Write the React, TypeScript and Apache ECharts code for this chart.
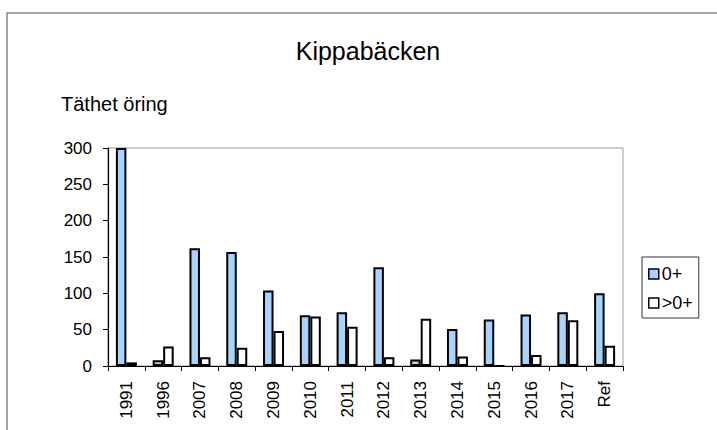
import React, { useEffect, useRef } from "react";
import * as echarts from "echarts";

const categories = ["1991", "1996", "2007", "2008", "2009", "2010", "2011", "2012", "2013", "2014", "2015", "2016", "2017", "Ref"];
const young = [300, 8, 162, 157, 104, 70, 74, 136, 9, 51, 64, 71, 74, 100];
const older = [5, 27, 12, 25, 48, 68, 54, 12, 65, 13, 0, 15, 63, 28];
const yTicks = { min: 0, max: 300, interval: 50 };

const FONT = "Liberation Sans, Arial, sans-serif";

export default function App() {
  const ref = useRef<HTMLDivElement>(null);
  useEffect(() => {
    if (!ref.current) return;
    const chart = echarts.init(ref.current, null, { renderer: "svg" });
    chart.setOption({
      animation: false,
      backgroundColor: "#fff",
      textStyle: { fontFamily: FONT },
      title: [
        { text: "Kippabäcken", left: 368, top: 38, textAlign: "center", padding: 0,
          textStyle: { fontSize: 25, fontWeight: "normal", color: "#000", fontFamily: FONT } },
        { text: "Täthet öring", left: 61, top: 94, padding: 0,
          textStyle: { fontSize: 20, fontWeight: "normal", color: "#000", fontFamily: FONT } },
      ],
      graphic: [
        { type: "rect", shape: { x: 7, y: 13, width: 800, height: 500 }, style: { fill: "none", stroke: "#888", lineWidth: 1.5 }, silent: true },
      ],
      legend: {
        orient: "vertical",
        left: 642,
        top: 257,
        padding: [8, 6, 6, 6],
        itemGap: 11,
        itemWidth: 10,
        itemHeight: 10,
        icon: "rect",
        borderColor: "#333",
        borderWidth: 1,
        textStyle: { fontSize: 18, color: "#000", fontFamily: FONT, padding: [0, 0, 0, -2] },
        itemStyle: { borderColor: "#000", borderWidth: 1.5 },
        data: ["0+", ">0+"],
      },
      grid: {
        left: 108, top: 148, right: 94, bottom: 64,
        show: true, borderColor: "#999", borderWidth: 1,
        containLabel: false, outerBoundsMode: "none",
      },
      xAxis: {
        type: "category",
        data: categories,
        axisLine: { show: true, lineStyle: { color: "#000", width: 1.2 } },
        axisTick: { show: true, interval: 0, length: 5, lineStyle: { color: "#000" } },
        axisLabel: { interval: 0, rotate: 90, margin: 15, fontSize: 17, color: "#000", fontFamily: FONT },
        splitLine: { show: false },
      },
      yAxis: {
        type: "value",
        min: yTicks.min, max: yTicks.max, interval: yTicks.interval,
        axisLine: { show: true, lineStyle: { color: "#000", width: 1.2 } },
        axisTick: { show: true, length: 5, lineStyle: { color: "#000" } },
        axisLabel: { margin: 16, fontSize: 17, color: "#000", fontFamily: FONT },
        splitLine: { show: false },
      },
      series: [
        { name: "0+", type: "bar", data: young, barWidth: 10.5, barGap: "0%",
          itemStyle: { color: "#a9d3ff", borderColor: "#000", borderWidth: 2 } },
        { name: ">0+", type: "bar", data: older, barWidth: 10.5, barGap: "0%",
          itemStyle: { color: "#fff", borderColor: "#000", borderWidth: 2 } },
      ],
    });
    return () => chart.dispose();
  }, []);
  return <div ref={ref} style={{ position: "fixed", left: 0, top: 0, width: 717, height: 430 }} />;
}
